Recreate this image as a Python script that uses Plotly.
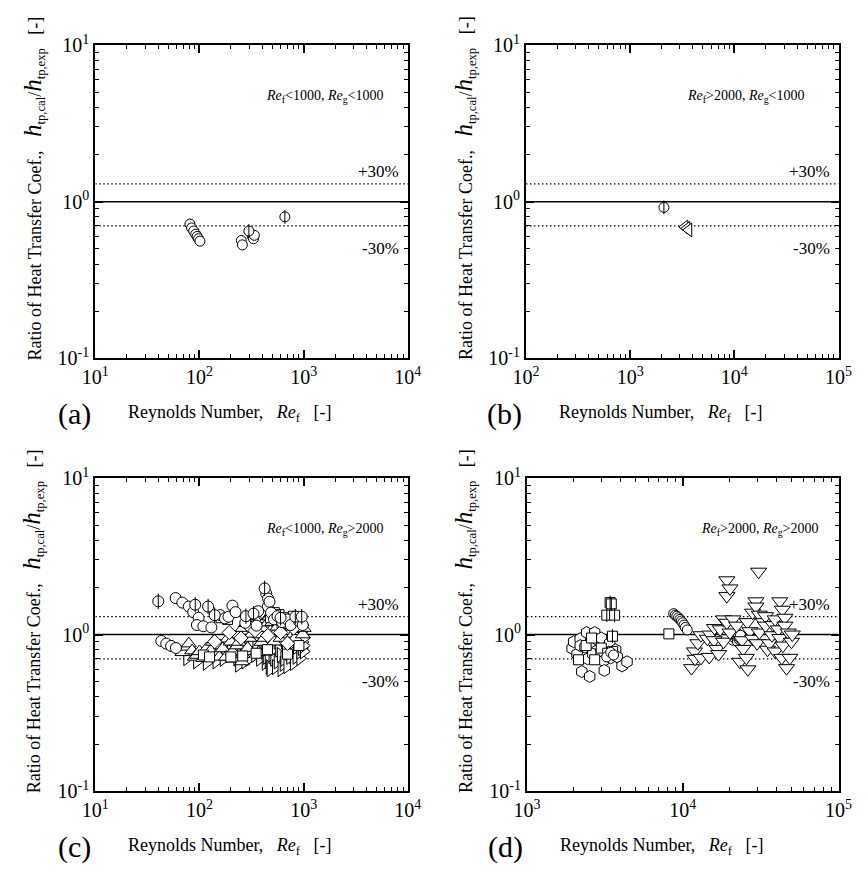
import plotly.graph_objects as go

FONT = "Liberation Serif"
W, H = 868, 879

# ---------------- data ----------------
# (a) Re_f<1000, Re_g<1000
a_circ_re = [81, 84, 88, 92, 95, 98, 101, 252, 258, 322, 330, 336]
a_circ_ratio = [0.72, 0.68, 0.65, 0.62, 0.60, 0.58, 0.56, 0.565, 0.53, 0.60, 0.58, 0.61]
a_phi_re = [298, 660]
a_phi_ratio = [0.65, 0.80]

# (b) Re_f>2000, Re_g<1000
b_phi_re = [2110]
b_phi_ratio = [0.92]
b_tleft_re = [3350, 3500, 3650]
b_tleft_ratio = [0.69, 0.675, 0.66]

# (c) Re_f<1000, Re_g>2000
c_circ_re = [59, 68.5, 79, 87, 98, 94.5, 109, 130, 158, 175, 190, 207, 222, 275, 437, 453,
             455, 470, 486, 520, 561, 620, 695, 750, 900, 980, 366, 353, 43, 48, 53.4, 59.4]
c_circ_ratio = [1.71, 1.60, 1.51, 1.39, 1.28, 1.15, 1.13, 1.11, 1.33, 1.27, 1.30, 1.53, 1.39, 1.19, 1.83, 1.51,
                1.70, 1.62, 1.38, 1.25, 1.31, 1.20, 1.25, 1.15, 1.22, 1.15, 1.41, 1.14, 0.91, 0.875, 0.846, 0.82]
c_phi_re = [40.2, 91, 121, 140, 279, 330, 422, 600, 831, 958]
c_phi_ratio = [1.63, 1.55, 1.51, 1.33, 1.31, 1.36, 1.97, 1.28, 1.30, 1.30]
c_tup_re = [68.5, 76, 79, 85, 90, 94.5, 100, 109, 115, 117, 125, 130, 135, 145, 155, 160, 167, 180, 186,
            200, 207, 215, 230, 239, 240, 256, 260, 260, 280, 290, 300, 318, 330, 341, 360, 370, 380,
            393, 400, 420, 440, 453, 470, 480, 500, 520, 542, 560, 580, 600, 620, 650, 680, 695, 720,
            750, 780, 801, 830, 870, 900, 925, 950, 980, 1000]
c_tup_ratio = [0.77, 0.834, 0.875, 0.79, 0.72, 0.74, 0.78, 0.706, 0.75, 0.815, 0.76, 0.80, 0.896, 0.74, 0.72,
               0.85, 0.815, 0.72, 0.94, 0.90, 0.777, 0.70, 0.85, 0.896, 1.00, 0.673, 0.75, 1.10, 1.18, 0.82,
               0.95, 1.01, 1.15, 1.31, 1.20, 0.77, 1.00, 0.896, 1.10, 0.95, 1.25, 1.19, 1.30, 1.05, 1.20,
               0.90, 1.03, 1.12, 1.25, 0.95, 1.05, 1.20, 1.00, 1.14, 1.20, 1.05, 1.12, 1.01, 0.95, 1.15,
               1.05, 1.08, 1.20, 1.00, 1.10]
c_tright_re = [76, 94.5, 117, 145, 170, 193, 200, 230, 239, 250, 275, 275, 300, 300, 318, 341, 350, 380,
               393, 400, 420, 430, 440, 453, 460, 470, 480, 500, 520, 523, 540, 560, 561, 580, 600, 601,
               610, 640, 650, 660, 674, 695, 700, 720, 740, 760, 773, 800, 801, 820, 850, 858, 880,
               925, 925, 940, 960, 974, 1000, 1000, 1000]
c_tright_ratio = [0.706, 0.673, 0.66, 0.673, 0.70, 0.74, 0.78, 0.70, 0.642, 0.74, 0.815, 0.673, 0.70, 0.80,
                  0.896, 0.74, 0.85, 0.70, 0.815, 0.90, 0.78, 0.66, 0.72, 0.896, 0.68, 0.62, 0.60, 0.75,
                  0.70, 0.815, 0.62, 0.90, 0.673, 0.80, 1.00, 0.74, 0.60, 0.65, 0.70, 0.90, 0.855, 0.627,
                  0.96, 0.85, 0.72, 0.78, 0.918, 0.90, 0.657, 0.98, 0.72, 0.834, 0.95, 0.706, 0.777, 0.90,
                  0.82, 0.896, 0.78, 0.85, 0.95]
c_sq_re = [109, 125, 161, 186, 200, 260, 350, 450, 480, 523, 580, 620, 674, 700, 736, 801, 900, 900]
c_sq_ratio = [0.74, 0.72, 1.28, 1.25, 0.72, 0.73, 0.76, 0.80, 1.28, 1.38, 1.34, 1.18, 1.28, 0.75, 1.22, 1.31, 0.85, 1.25]
c_dia_re = [140, 193, 250, 296, 341, 453, 601, 700, 800]
c_dia_ratio = [0.90, 1.03, 0.95, 1.14, 1.06, 0.986, 1.03, 0.88, 1.10]

# (d) Re_f>2000, Re_g>2000
d_hex_re = [1950, 1995, 2100, 2198, 2200, 2250, 2360, 2417, 2450, 2530, 2595, 2650, 2722, 2855, 2990,
            3000, 3100, 3140, 3290, 3400, 3450, 3710, 3800, 4080, 4390]
d_hex_ratio = [0.815, 0.90, 0.75, 0.94, 0.85, 0.58, 0.83, 1.03, 0.70, 0.54, 0.90, 0.75, 1.03, 0.92, 0.78,
               0.95, 0.68, 0.59, 0.83, 0.88, 0.71, 0.80, 0.72, 0.63, 0.67]
d_sq_re = [2143, 2400, 2600, 2722, 3000, 3300, 3550, 8150]
d_sq_ratio = [0.69, 0.85, 0.95, 0.69, 0.82, 0.76, 0.78, 1.01]
d_sqphi_re = [3257, 3420, 3480, 3540, 3655]
d_sqphi_ratio = [1.33, 1.60, 1.57, 0.976, 1.33]
d_circ_re = [3250, 3450, 3600, 8750, 8950, 9160, 9400, 9600, 9800, 10000, 10200, 10400, 10700,
             21000, 21300, 21500, 21800, 22000, 22200, 22400, 22500, 22600, 22800, 23000, 23200, 23500]
d_circ_ratio = [0.72, 0.77, 0.74, 1.36, 1.33, 1.31, 1.28, 1.25, 1.22, 1.19, 1.15, 1.11, 1.07,
                0.92, 0.99, 0.97, 0.94, 1.00, 0.96, 0.93, 0.90, 1.01, 0.98, 0.93, 0.95, 0.99]
d_tdown_re = [11400, 11900, 12000, 12500, 13100, 13100, 14400, 14800, 15000, 15900, 16000, 16600, 17000,
              17400, 18300, 18300, 19200, 19200, 19200, 20100, 20100, 21000, 22200, 23300, 24000, 24400,
              25600, 26000, 26200, 27000, 28100, 28100, 29500, 29500, 30000, 30700, 31000, 31000, 33000,
              34000, 34000, 35000, 36000, 37400, 38000, 39200, 39200, 41100, 42000, 42000, 43200, 43600,
              44000, 45300, 45300, 46400, 47500, 48700, 49900, 50500]
d_tdown_ratio = [0.61, 0.78, 0.70, 0.88, 0.99, 0.71, 0.94, 0.72, 1.00, 0.92, 1.10, 0.81, 0.75,
                 1.08, 1.25, 0.90, 2.22, 1.76, 1.19, 1.97, 1.03, 1.25, 1.14, 0.67, 0.92, 0.81,
                 0.71, 1.20, 0.60, 1.05, 1.38, 0.94, 1.63, 1.51, 0.88, 2.52, 1.34, 1.03, 1.20,
                 1.31, 1.14, 0.80, 0.88, 0.99, 1.15, 1.25, 0.78, 1.08, 1.63, 0.95, 0.71, 1.44,
                 0.85, 1.28, 1.14, 0.61, 1.03, 0.71, 0.90, 1.00]

ref_levels = [1.0, 1.3, 0.7]
dev_labels = ["+30%", "-30%"]
cond_labels = {
    "a": "<i>Re</i><sub>f</sub>&lt;1000, <i>Re</i><sub>g</sub>&lt;1000",
    "b": "<i>Re</i><sub>f</sub>&gt;2000, <i>Re</i><sub>g</sub>&lt;1000",
    "c": "<i>Re</i><sub>f</sub>&lt;1000, <i>Re</i><sub>g</sub>&gt;2000",
    "d": "<i>Re</i><sub>f</sub>&gt;2000, <i>Re</i><sub>g</sub>&gt;2000",
}
x_decades = {"a": (1, 4), "b": (2, 5), "c": (1, 4), "d": (3, 5)}
y_decades = (-1, 1)

# ---------------- layout geometry ----------------
def xd(l, r):
    return [l / W, r / W]

def yd(t, b):
    return [1 - b / H, 1 - t / H]

geom = {
    "a": dict(ax="", xdom=xd(84, 407), ydom=yd(33, 355), cond_x=0.93),
    "b": dict(ax="2", xdom=xd(529, 852), ydom=yd(33, 355), cond_x=0.90),
    "c": dict(ax="3", xdom=xd(84, 407), ydom=yd(478, 800), cond_x=0.93),
    "d": dict(ax="4", xdom=xd(530, 852), ydom=yd(478, 800), cond_x=0.945),
}

fig = go.Figure()

def add_series(p, xs, ys, symbol, size=11, phi=False):
    g = geom[p]
    fig.add_trace(go.Scatter(
        x=xs, y=ys, mode="markers", xaxis="x" + g["ax"], yaxis="y" + g["ax"],
        marker=dict(symbol=symbol, size=size, color="white",
                    line=dict(color="black", width=1)),
        showlegend=False, hoverinfo="skip"))
    if phi:
        fig.add_trace(go.Scatter(
            x=xs, y=ys, mode="markers", xaxis="x" + g["ax"], yaxis="y" + g["ax"],
            marker=dict(symbol="line-ns-open", size=size, color="black",
                        line=dict(color="black", width=1)),
            showlegend=False, hoverinfo="skip"))

# reference lines first (under markers)
for p, g in geom.items():
    x0, x1 = x_decades[p]
    xs = [10 ** x0, 10 ** x1]
    for lev in ref_levels:
        solid = lev == 1.0
        fig.add_trace(go.Scatter(
            x=xs, y=[lev, lev], mode="lines", xaxis="x" + g["ax"], yaxis="y" + g["ax"],
            line=dict(color="black", width=1.5 if solid else 1.3,
                      dash="solid" if solid else "1.5px,2.5px"),
            showlegend=False, hoverinfo="skip"))

# panel (a)
add_series("a", a_circ_re, a_circ_ratio, "circle", 10)
add_series("a", a_phi_re, a_phi_ratio, "circle", 10, phi=True)
# panel (b)
add_series("b", b_phi_re, b_phi_ratio, "circle", 10, phi=True)
add_series("b", b_tleft_re, b_tleft_ratio, "triangle-left", 12)
# panel (c)
add_series("c", c_tright_re, c_tright_ratio, "triangle-right", 13)
add_series("c", c_tup_re, c_tup_ratio, "triangle-up", 13)
add_series("c", c_sq_re, c_sq_ratio, "square", 10)
add_series("c", c_dia_re, c_dia_ratio, "diamond", 11)
add_series("c", c_circ_re, c_circ_ratio, "circle", 11)
add_series("c", c_phi_re, c_phi_ratio, "circle", 11, phi=True)
# panel (d)
add_series("d", d_hex_re, d_hex_ratio, "hexagon", 12)
add_series("d", d_sq_re, d_sq_ratio, "square", 10)
add_series("d", d_sqphi_re, d_sqphi_ratio, "square", 10, phi=True)
add_series("d", d_circ_re, d_circ_ratio, "circle", 10)
add_series("d", d_tdown_re, d_tdown_ratio, "triangle-down", 14)

tickfont = dict(family=FONT, size=20, color="black")

def log_axis(lo, hi, dom, anchor):
    major = [10 ** k for k in range(lo, hi + 1)]
    text = ["10<sup>%d</sup>" % k for k in range(lo, hi + 1)]
    minor = [m * 10 ** k for k in range(lo, hi) for m in range(2, 10)]
    return dict(type="log", range=[lo, hi], domain=dom, anchor=anchor,
                showline=True, linecolor="black", linewidth=2, mirror="allticks",
                ticks="inside", ticklen=8, tickwidth=1.5, tickcolor="black",
                tickmode="array", tickvals=major, ticktext=text, tickfont=tickfont,
                minor=dict(ticks="inside", ticklen=4, tickwidth=1.2, tickcolor="black",
                           tickmode="array", tickvals=minor, showgrid=False),
                showgrid=False, zeroline=False)

layout = dict(width=W, height=H, margin=dict(l=0, r=0, t=0, b=0),
              paper_bgcolor="white", plot_bgcolor="white", showlegend=False,
              font=dict(family=FONT, color="black"))
annotations = []
for p, g in geom.items():
    ax = g["ax"]
    lo, hi = x_decades[p]
    layout["xaxis" + ax] = log_axis(lo, hi, g["xdom"], "y" + ax)
    layout["yaxis" + ax] = log_axis(y_decades[0], y_decades[1], g["ydom"], "x" + ax)
    xref = ("x" + ax) + " domain"
    yref = ("y" + ax) + " domain"
    annotations.append(dict(text=cond_labels[p], xref=xref, yref=yref, x=g["cond_x"], y=0.835,
                            xanchor="right", yanchor="middle", showarrow=False,
                            font=dict(family=FONT, size=14)))
    annotations.append(dict(text=dev_labels[0], xref=xref, yref=yref, x=0.978, y=0.595,
                            xanchor="right", yanchor="middle", showarrow=False,
                            font=dict(family=FONT, size=17)))
    annotations.append(dict(text=dev_labels[1], xref=xref, yref=yref, x=0.978, y=0.35,
                            xanchor="right", yanchor="middle", showarrow=False,
                            font=dict(family=FONT, size=17)))
    # x title and panel letter
    xl, xr_ = g["xdom"]
    yb = g["ydom"][0]
    annotations.append(dict(text="Reynolds Number,\u00a0\u00a0 <i>Re</i><sub>f</sub>\u00a0\u00a0 [-]",
                            xref="paper", yref="paper", x=xl + (139 / W), y=yb - 57 / H,
                            xanchor="center", yanchor="middle", showarrow=False,
                            font=dict(family=FONT, size=18)))
    annotations.append(dict(text="(%s)" % p, xref="paper", yref="paper", x=xl - 22 / W, y=yb - 57 / H,
                            xanchor="center", yanchor="middle", showarrow=False,
                            font=dict(family=FONT, size=30)))
    # y title
    yt = g["ydom"]
    annotations.append(dict(
        text="Ratio of Heat Transfer Coef.,\u00a0\u00a0 <span style='font-size:25px'><i>h</i></span><sub>tp,cal</sub>/<span style='font-size:25px'><i>h</i></span><sub>tp,exp</sub>\u00a0\u00a0 [-]",
        xref="paper", yref="paper", x=xl - 64 / W, y=(yt[0] + yt[1]) / 2 + 14 / H,
        xanchor="center", yanchor="middle", textangle=-90, showarrow=False,
        font=dict(family=FONT, size=18)))
layout["annotations"] = annotations
fig.update_layout(**layout)
fig.write_html("out.html")
